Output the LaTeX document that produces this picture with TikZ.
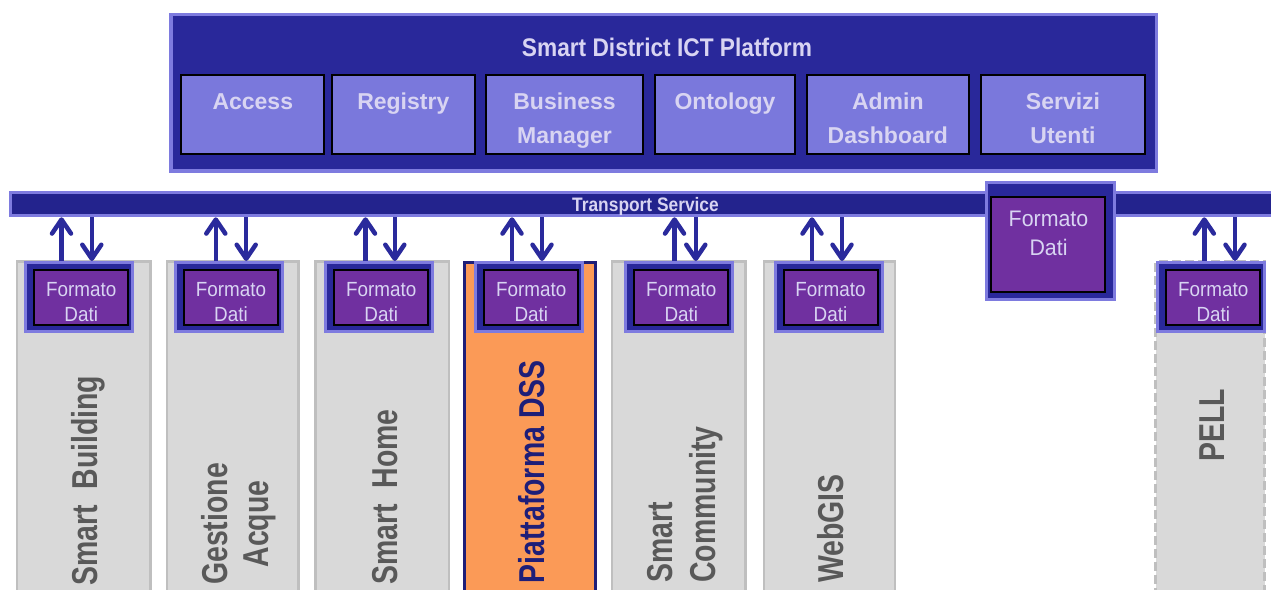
\documentclass[tikz,border=0pt]{standalone}
\usepackage{fontspec}
\setmainfont{Liberation Sans}
\usetikzlibrary{arrows.meta,calc}
\definecolor{platnavy}{HTML}{29289A}
\definecolor{barnavy}{HTML}{23238D}
\definecolor{lightpurple}{HTML}{7E7BDF}
\definecolor{modfill}{HTML}{7A78DC}
\definecolor{lavtext}{HTML}{D8D4F2}
\definecolor{fdpurple}{HTML}{7030A0}
\definecolor{colgray}{HTML}{D9D9D9}
\definecolor{colborder}{HTML}{BFBFBF}
\definecolor{labgray}{HTML}{595959}
\definecolor{dssorange}{HTML}{FB9A57}
\definecolor{dssnavy}{HTML}{1E1E78}
\definecolor{arrowblue}{HTML}{2A2A9C}
\newcommand{\fdtext}{\scalebox{0.92}[1]{\begin{tabular}[t]{@{}c@{}}Formato\\Dati\end{tabular}}}
\newcommand{\updown}[3]{%
  \draw[flow] ($(#1.north)+(#2,0)$) -- ($(#1.north |- bar.south)+(#2,0)$);
  \draw[flow] ($(#1.north |- bar.south)+(#3,0)$) -- ($(#1.north)+(#3,0)$);}
\begin{document}
\begin{tikzpicture}[x=1pt,y=-1pt,
  plat/.style={draw=lightpurple, fill=platnavy, line width=3.5pt, inner sep=0},
  module/.style={draw=black, fill=modfill, line width=2pt, inner sep=0, minimum height=79pt},
  modlabel/.style={text=lavtext, font=\fontsize{23}{34.5}\selectfont\bfseries, anchor=base, inner sep=0},
  titlelabel/.style={text=lavtext, font=\fontsize{25.5}{30}\selectfont\bfseries, anchor=base, inner sep=0},
  barstyle/.style={draw=lightpurple, fill=barnavy, line width=3pt, inner sep=0},
  fdout/.style={draw=lightpurple, fill=platnavy, line width=3pt, minimum width=107pt, minimum height=69pt, inner sep=0},
  fdin/.style={draw=black, fill=fdpurple, line width=2pt, minimum width=94pt, minimum height=55pt, inner sep=0},
  fdlabel/.style={text=lavtext, font=\fontsize{20.5}{25}\selectfont, anchor=base, inner sep=0},
  colbox/.style={draw=colborder, fill=colgray, line width=2.5pt, minimum height=340pt, anchor=north, inner sep=0},
  collabel/.style={rotate=90, anchor=base west, inner sep=0, text=labgray},
  flow/.style={draw=arrowblue, line width=4.5pt, -{Straight Barb[length=14pt,width=19pt,round]}}
]
\useasboundingbox (0,0) rectangle (1271,589);
\clip (0,0) rectangle (1271,589);
\fill[white] (0,0) rectangle (1271,589);

% platform
\node[plat, minimum width=985.3pt, minimum height=156.5pt] (platform) at (663.7,92.7) {};
\node[titlelabel] (ptitle) at (667,56.7) {\scalebox{0.89}[1]{Smart District ICT Platform}};

\node[module, minimum width=143pt] (access) at (252.8,114.5) {};
\node[module, minimum width=142.7pt] (registry) at (403.3,114.5) {};
\node[module, minimum width=157pt] (business) at (564.5,114.5) {};
\node[module, minimum width=139.4pt] (ontology) at (725,114.5) {};
\node[module, minimum width=162.3pt] (admin) at (887.8,114.5) {};
\node[module, minimum width=164pt] (servizi) at (1063,114.5) {};

\node[modlabel] (laccess) at (252.8,109) {Access};
\node[modlabel] (lregistry) at (403.3,109) {Registry};
\node[modlabel] (lbusiness) at (564.5,109) {\begin{tabular}[t]{@{}c@{}}Business\\Manager\end{tabular}};
\node[modlabel] (lontology) at (725,109) {Ontology};
\node[modlabel] (ladmin) at (887.8,109) {\begin{tabular}[t]{@{}c@{}}Admin\\Dashboard\end{tabular}};
\node[modlabel] (lservizi) at (1063,109) {\begin{tabular}[t]{@{}c@{}}Servizi\\Utenti\end{tabular}};

% transport bar
\node[barstyle, minimum width=1300pt, minimum height=23.6pt, anchor=west] (bar) at (9.3,204) {};
\node[text=lavtext, font=\fontsize{19.5}{22}\selectfont\bfseries, anchor=base, inner sep=0] (lbar) at (645.5,211) {\scalebox{0.89}[1]{Transport Service}};

% large formato dati on the bar
\node[draw=lightpurple, fill=platnavy, line width=3pt, minimum width=128pt, minimum height=117pt, inner sep=0] (bigout) at (1050.5,241) {};
\node[draw=black, fill=fdpurple, line width=2pt, minimum width=113.7pt, minimum height=95pt, inner sep=0] (bigin) at (1047.8,244.2) {};
\node[text=lavtext, font=\fontsize{22.5}{29.3}\selectfont, anchor=base, inner sep=0] (bigl) at (1048.5,226) {\scalebox{0.95}[1]{\begin{tabular}[t]{@{}c@{}}Formato\\Dati\end{tabular}}};

% columns
\node[colbox, minimum width=133.5pt] (c1) at (83.7,260) {};
\node[colbox, minimum width=131.8pt] (c2) at (232.8,260) {};
\node[colbox, minimum width=133.2pt] (c3) at (382.2,260) {};
\node[colbox, draw=dssnavy, fill=dssorange, line width=3pt, minimum width=131.3pt] (c4) at (529.8,261) {};
\node[colbox, minimum width=133.2pt] (c5) at (678.8,260) {};
\node[colbox, minimum width=131.1pt] (c6) at (829.5,260) {};
\node[colbox, line width=3pt, dash pattern=on 9pt off 4pt, minimum width=109pt] (c7) at (1210,260) {};

% column labels
\node[collabel, font=\fontsize{36}{42}\selectfont\bfseries] (t1) at (97,586) {\scalebox{0.79}[1]{Smart\ \ Building}};
\node[collabel, font=\fontsize{36}{41}\selectfont\bfseries] (t2) at (227,585) {\scalebox{0.79}[1]{\begin{tabular}[t]{@{}c@{}}Gestione\\Acque\end{tabular}}};
\node[collabel, font=\fontsize{36}{42}\selectfont\bfseries] (t3) at (397,585) {\scalebox{0.79}[1]{Smart\ \ Home}};
\node[collabel, text=dssnavy, font=\fontsize{36}{42}\selectfont\bfseries] (t4) at (544,583.5) {\scalebox{0.79}[1]{Piattaforma DSS}};
\node[collabel, font=\fontsize{36}{43}\selectfont\bfseries] (t5) at (672,583) {\scalebox{0.79}[1]{\begin{tabular}[t]{@{}l@{}}Smart\\Community\end{tabular}}};
\node[collabel, font=\fontsize{36}{42}\selectfont\bfseries] (t6) at (843,583) {\scalebox{0.79}[1]{WebGIS}};
\node[collabel, font=\fontsize{36}{42}\selectfont\bfseries] (t7) at (1224,462) {\scalebox{0.79}[1]{PELL}};

% small formato dati boxes
\node[fdout] (fo1) at (79.2,297) {};
\node[fdin] (fi1) at (81.2,297.5) {};
\node[fdlabel] (fl1) at (81.2,296) {\fdtext};
\node[fdout] (fo2) at (229,297) {};
\node[fdin] (fi2) at (231,297.5) {};
\node[fdlabel] (fl2) at (231,296) {\fdtext};
\node[fdout] (fo3) at (379.2,297) {};
\node[fdin] (fi3) at (381.2,297.5) {};
\node[fdlabel] (fl3) at (381.2,296) {\fdtext};
\node[fdout] (fo4) at (529.3,297) {};
\node[fdin] (fi4) at (531.3,297.5) {};
\node[fdlabel] (fl4) at (531.3,296) {\fdtext};
\node[fdout] (fo5) at (679.3,297) {};
\node[fdin] (fi5) at (681.3,297.5) {};
\node[fdlabel] (fl5) at (681.3,296) {\fdtext};
\node[fdout] (fo6) at (828.5,297) {};
\node[fdin] (fi6) at (830.5,297.5) {};
\node[fdlabel] (fl6) at (830.5,296) {\fdtext};
\node[fdout] (fo7) at (1211.3,297) {};
\node[fdin] (fi7) at (1213.3,297.5) {};
\node[fdlabel] (fl7) at (1213.3,296) {\fdtext};

% arrows
\updown{fo1}{-17.7}{12.6}
\updown{fo2}{-13.2}{17.2}
\updown{fo3}{-13.7}{15.6}
\updown{fo4}{-17.3}{12.7}
\updown{fo5}{-4.8}{16.5}
\updown{fo6}{-16.5}{13.5}
\updown{fo7}{-7}{23.7}
\end{tikzpicture}
\end{document}
